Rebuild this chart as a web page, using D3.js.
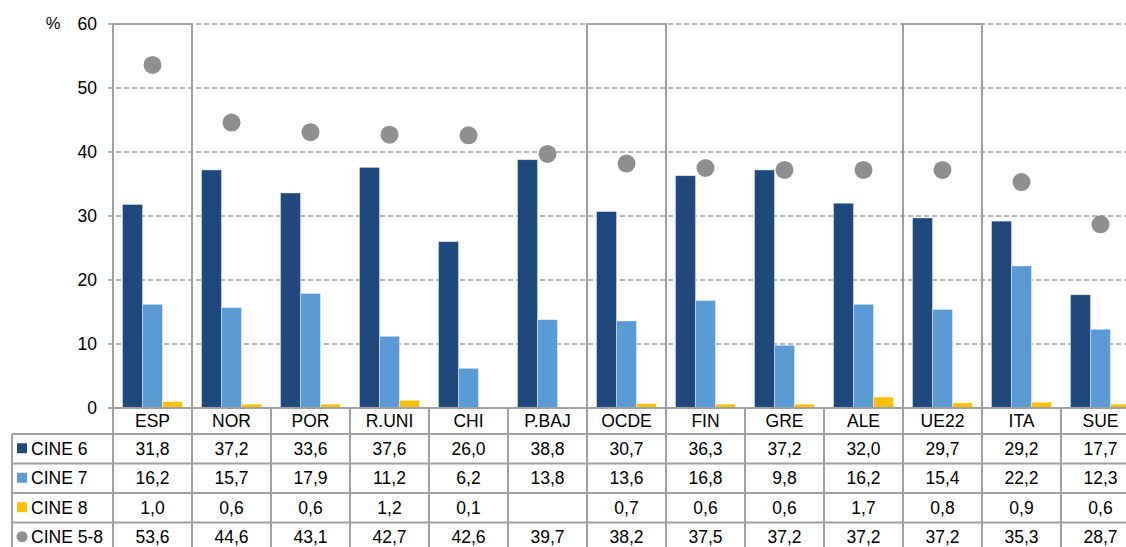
<!DOCTYPE html>
<html>
<head>
<meta charset="utf-8">
<script src="https://cdn.jsdelivr.net/npm/d3@7"></script>
<style>
    body { margin: 0; background: #fff; }
    svg { display: block; font-family: "Liberation Sans", Arial, sans-serif; }
</style>
</head>
<body>
<svg id="chart" width="1126" height="547"></svg>
<script>
const categories = ["ESP", "NOR", "POR", "R.UNI", "CHI", "P.BAJ", "OCDE", "FIN", "GRE", "ALE", "UE22", "ITA", "SUE"];
const cine6 = [31.8, 37.2, 33.6, 37.6, 26.0, 38.8, 30.7, 36.3, 37.2, 32.0, 29.7, 29.2, 17.7];
const cine7 = [16.2, 15.7, 17.9, 11.2, 6.2, 13.8, 13.6, 16.8, 9.8, 16.2, 15.4, 22.2, 12.3];
const cine8 = [1.0, 0.6, 0.6, 1.2, 0.1, null, 0.7, 0.6, 0.6, 1.7, 0.8, 0.9, 0.6];
const cine58 = [53.6, 44.6, 43.1, 42.7, 42.6, 39.7, 38.2, 37.5, 37.2, 37.2, 37.2, 35.3, 28.7];
const highlighted = ["ESP", "OCDE", "UE22"];
const yTicks = [0, 10, 20, 30, 40, 50, 60];

const series = [
    {key: "CINE 6", values: cine6, color: "#1f497d", type: "bar"},
    {key: "CINE 7", values: cine7, color: "#5b9bd5", type: "bar"},
    {key: "CINE 8", values: cine8, color: "#ffc000", type: "bar"},
    {key: "CINE 5-8", values: cine58, color: "#8f8f8f", type: "dot"}
];

const lineColor = "#a0a0a0";
const fontSize = 17.5;
const svg = d3.select("#chart");

const plot = {left: 113, right: 1140, top: 24, bottom: 408};
const table = {left: 12, rowH: [26, 29.5, 29.5, 29.5, 29.5]};

const x = d3.scaleBand().domain(categories).range([plot.left, plot.right]);
const barKeys = series.filter(s => s.type === "bar").map(s => s.key);
const x1 = d3.scaleBand().domain(barKeys).range([0, x.bandwidth()]).paddingOuter(0.475);
const y = d3.scaleLinear().domain([0, 60]).range([plot.bottom, plot.top]);

const locale = d3.formatLocale({decimal: ",", thousands: ".", grouping: [3], currency: ["", "€"]});
const fmt = locale.format(".1f");

// grid lines
svg.append("g")
    .selectAll("line")
    .data(yTicks.filter(d => d > 0))
    .join("line")
    .attr("x1", plot.left - 5)
    .attr("x2", plot.right)
    .attr("y1", d => y(d))
    .attr("y2", d => y(d))
    .attr("stroke", lineColor)
    .attr("stroke-width", 1.6)
    .attr("stroke-dasharray", "5,3");

// y axis labels
const yAxis = svg.append("g")
    .attr("transform", `translate(${plot.left - 16},0)`)
    .call(d3.axisLeft(y).tickValues(yTicks).tickSize(0).tickPadding(0));
yAxis.select(".domain").remove();
yAxis.selectAll("text")
    .attr("font-size", fontSize)
    .attr("font-family", "Liberation Sans, Arial, sans-serif")
    .attr("fill", "#000");

svg.append("text")
    .attr("x", 53)
    .attr("y", y(60) + 5)
    .attr("text-anchor", "middle")
    .attr("font-size", 16.5)
    .text("%");

// bars
const groups = svg.append("g")
    .selectAll("g")
    .data(categories)
    .join("g")
    .attr("transform", d => `translate(${x(d)},0)`);

series.filter(s => s.type === "bar").forEach(s => {
    groups.filter((d, i) => s.values[i] != null)
        .append("rect")
        .attr("x", x1(s.key))
        .attr("width", x1.bandwidth())
        .attr("y", d => y(s.values[categories.indexOf(d)]))
        .attr("height", d => y(0) - y(s.values[categories.indexOf(d)]))
        .attr("fill", s.color)
        .attr("stroke", "#ffffff")
        .attr("stroke-opacity", 0.5)
        .attr("stroke-width", 0.8);
});

// highlight boxes
svg.append("g")
    .selectAll("rect")
    .data(highlighted)
    .join("rect")
    .attr("x", d => x(d))
    .attr("y", y(60))
    .attr("width", x.bandwidth())
    .attr("height", y(0) - y(60))
    .attr("fill", "none")
    .attr("stroke", lineColor)
    .attr("stroke-width", 2);

// dots
const dots = series.find(s => s.type === "dot");
svg.append("g")
    .selectAll("circle")
    .data(categories)
    .join("circle")
    .attr("cx", d => x(d) + x.bandwidth() / 2)
    .attr("cy", (d, i) => y(dots.values[i]))
    .attr("r", 9)
    .attr("fill", dots.color);

// table
const rowY = [plot.bottom];
table.rowH.forEach(h => rowY.push(rowY[rowY.length - 1] + h));

const grid = svg.append("g").attr("stroke", lineColor).attr("stroke-width", 2);
grid.append("line")
    .attr("x1", plot.left - 5).attr("x2", plot.right)
    .attr("y1", rowY[0]).attr("y2", rowY[0]);
rowY.slice(1).forEach(ry => {
    grid.append("line")
        .attr("x1", table.left).attr("x2", plot.right)
        .attr("y1", ry).attr("y2", ry);
});
grid.append("line")
    .attr("x1", table.left).attr("x2", table.left)
    .attr("y1", rowY[1]).attr("y2", rowY[5]);
grid.append("line")
    .attr("x1", plot.left).attr("x2", plot.left)
    .attr("y1", plot.top).attr("y2", rowY[5]);
grid.selectAll(".vdiv")
    .data(categories)
    .join("line")
    .attr("class", "vdiv")
    .attr("x1", d => x(d) + x.bandwidth())
    .attr("x2", d => x(d) + x.bandwidth())
    .attr("y1", rowY[0])
    .attr("y2", rowY[5]);

// category labels
svg.append("g")
    .selectAll("text")
    .data(categories)
    .join("text")
    .attr("x", d => x(d) + x.bandwidth() / 2)
    .attr("y", (rowY[0] + rowY[1]) / 2 + 6)
    .attr("text-anchor", "middle")
    .attr("font-size", fontSize)
    .text(d => d);

// series rows
series.forEach((s, si) => {
    const cy = (rowY[si + 1] + rowY[si + 2]) / 2;
    const row = svg.append("g");
    if (s.type === "bar") {
        row.append("rect")
            .attr("x", 17).attr("y", cy - 5.5)
            .attr("width", 10).attr("height", 10)
            .attr("fill", s.color);
    } else {
        row.append("circle")
            .attr("cx", 22).attr("cy", cy - 0.5)
            .attr("r", 5.5)
            .attr("fill", s.color);
    }
    row.append("text")
        .attr("x", 31).attr("y", cy + 6.2)
        .attr("font-size", fontSize)
        .text(s.key);
    row.selectAll(".val")
        .data(categories)
        .join("text")
        .attr("class", "val")
        .attr("x", d => x(d) + x.bandwidth() / 2)
        .attr("y", cy + 6.2)
        .attr("text-anchor", "middle")
        .attr("font-size", fontSize)
        .text((d, i) => s.values[i] == null ? "" : fmt(s.values[i]));
});
</script>
</body>
</html>
